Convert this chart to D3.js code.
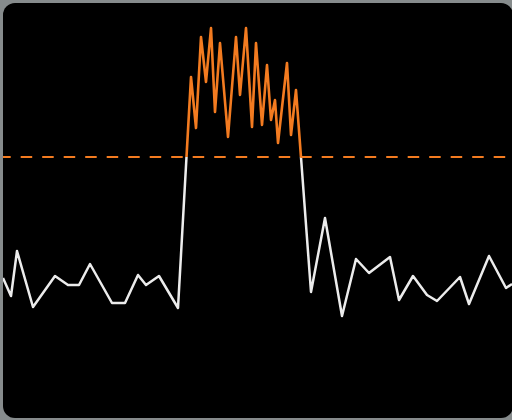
<!DOCTYPE html>
<html>
<head>
<meta charset="utf-8">
<script src="https://cdn.jsdelivr.net/npm/d3@7"></script>
<style>
	html, body { margin: 0; padding: 0; background: #868b8c; }
	#chart { width: 512px; height: 420px; }
</style>
</head>
<body>
<div id="chart"></div>
<script>
// signal samples: time (t) and level (v)
var times  = [0, 8, 14, 30, 52, 65, 76, 87, 109, 122, 135, 143, 156, 175,
              188, 193, 198, 203, 208, 212, 217, 225, 233, 237, 243, 249, 253, 259, 264, 268, 272, 275, 284, 288, 293,
              308, 322, 339, 353, 366, 387, 396, 410, 424, 434, 457, 466, 486, 503, 509];
var levels = [140, 122, 167, 111, 142, 133, 133, 154, 115, 115, 143, 133, 142, 110,
              341, 290, 381, 336, 390, 306, 375, 281, 381, 323, 390, 291, 375, 293, 353, 298, 318, 275, 355, 283, 328,
              126, 200, 102, 159, 145, 161, 118, 142, 123, 117, 141, 114, 162, 130, 134];
var threshold = 261;

showchart("chart", 512, 420);

function showchart(container_id, width, height) {
	var panel = {x: 3, y: 3, w: 509, h: 415};
	var orange = "#f37b20";

	var x = d3.scaleLinear().domain([0, 509]).range([panel.x, panel.x + panel.w]);
	var y = d3.scaleLinear().domain([0, 415]).range([panel.y + panel.h, panel.y]);

	var svg = d3.select("#" + container_id)
				.append("svg")
				.attr("width", width)
				.attr("height", height);

	svg.append("rect")
		.attr("width", width)
		.attr("height", height)
		.attr("fill", "#868b8c");

	svg.append("rect")
		.attr("x", panel.x)
		.attr("y", panel.y)
		.attr("width", panel.w + 1)
		.attr("height", panel.h)
		.attr("rx", 12)
		.attr("fill", "#000");

	var defs = svg.append("defs");
	defs.append("clipPath").attr("id", "above")
		.append("rect")
		.attr("x", panel.x).attr("y", panel.y)
		.attr("width", panel.w).attr("height", y(threshold) - panel.y);
	defs.append("clipPath").attr("id", "below")
		.append("rect")
		.attr("x", panel.x).attr("y", y(threshold))
		.attr("width", panel.w).attr("height", panel.y + panel.h - y(threshold));

	var data = times.map(function (t, i) { return {t: t, v: levels[i]}; });
	var line = d3.line()
				.x(function (d) { return x(d.t); })
				.y(function (d) { return y(d.v); });

	// below threshold: white, above: orange
	svg.append("path")
		.datum(data)
		.attr("clip-path", "url(#below)")
		.attr("d", line)
		.attr("fill", "none")
		.attr("stroke", "#ececec")
		.attr("stroke-width", 2.5)
		.attr("stroke-linejoin", "round");

	svg.append("path")
		.datum(data)
		.attr("clip-path", "url(#above)")
		.attr("d", line)
		.attr("fill", "none")
		.attr("stroke", orange)
		.attr("stroke-width", 2.6)
		.attr("stroke-linejoin", "round");

	svg.append("line")
		.attr("x1", panel.x)
		.attr("x2", panel.x + panel.w)
		.attr("y1", y(threshold))
		.attr("y2", y(threshold))
		.attr("stroke", orange)
		.attr("stroke-width", 2)
		.attr("stroke-dasharray", "11.5,10")
		.attr("stroke-dashoffset", 3.8);
}
</script>
</body>
</html>
